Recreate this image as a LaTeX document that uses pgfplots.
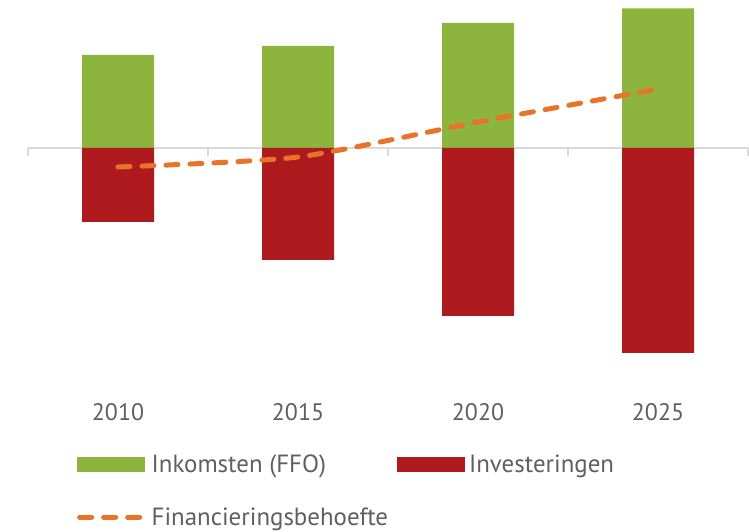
\documentclass[border=0pt]{standalone}
\usepackage{pgfplots}
\pgfplotsset{compat=1.18}
\usepackage{fontspec}
\setmainfont{PT Sans}
\definecolor{cgreen}{HTML}{8DB53D}
\definecolor{cred}{HTML}{AE1A1E}
\definecolor{corange}{HTML}{E8742A}
\definecolor{ctext}{HTML}{5F5F5F}
\definecolor{caxis}{HTML}{D9D9D9}
\begin{document}
\begin{tikzpicture}
\useasboundingbox (0,0) rectangle (749bp,532bp);
\begin{axis}[
  at={(28bp,152bp)}, anchor=south west,
  scale only axis, width=720bp, height=380bp,
  xmin=-0.5, xmax=3.5, ymin=-232, ymax=148,
  axis x line*=bottom, axis y line=none,
  x axis line style={draw=none},
  major tick length=0pt,
  xtick={0,1,2,3}, xticklabels={2010,2015,2020,2025},
  ytick=\empty,
  xticklabel style={font=\fontsize{24}{28}\selectfont, text=ctext, anchor=north, yshift=-20bp},
  clip=false,
  legend columns=2,
  legend cell align=left,
  legend style={draw=none, fill=none, inner sep=0pt,
    at={(0.068,-0.19)}, anchor=north west,
    font=\fontsize{25}{29}\selectfont, text=ctext,
    /tikz/every even column/.append style={column sep=7bp},
    row sep=30bp},
]
\draw[caxis, line width=1.5bp] (axis cs:-0.5,0) -- (axis cs:3.5,0);
\draw[caxis, line width=1.5bp] (axis cs:-0.5,0) -- ++(0pt,-8bp);
\draw[caxis, line width=1.5bp] (axis cs:0.5,0) -- ++(0pt,-8bp);
\draw[caxis, line width=1.5bp] (axis cs:1.5,0) -- ++(0pt,-8bp);
\draw[caxis, line width=1.5bp] (axis cs:2.5,0) -- ++(0pt,-8bp);
\draw[caxis, line width=1.5bp] (axis cs:3.5,0) -- ++(0pt,-8bp);
\addplot[ybar, bar width=72bp, bar shift=0pt, fill=cgreen, draw=none,
  legend image code/.code={\fill[cgreen] (0bp,-7.5bp) rectangle (68bp,7.5bp); \path (70bp,0bp);}]
  coordinates {(0,93) (1,102) (2,125) (3,139.5)};
\addlegendentry{Inkomsten (FFO)}
\addplot[ybar, bar width=72bp, bar shift=0pt, fill=cred, draw=none,
  legend image code/.code={\fill[cred] (0bp,-7.5bp) rectangle (68bp,7.5bp); \path (70bp,0bp);}]
  coordinates {(0,-74) (1,-112) (2,-168) (3,-205)};
\addlegendentry{Investeringen}
\addplot[corange, line width=5bp, line cap=round, dash pattern=on 12bp off 12bp, smooth, tension=0.4,
  legend image code/.code={\draw[corange, line width=5bp, line cap=round, dash pattern=on 12bp off 12bp] (2.5bp,0bp) -- (62.5bp,0bp); \path (70bp,0bp);}]
  coordinates {(0,-19) (1,-9) (2,26) (3,59)};
\addlegendentry{Financieringsbehoefte}
\end{axis}
\end{tikzpicture}
\end{document}
